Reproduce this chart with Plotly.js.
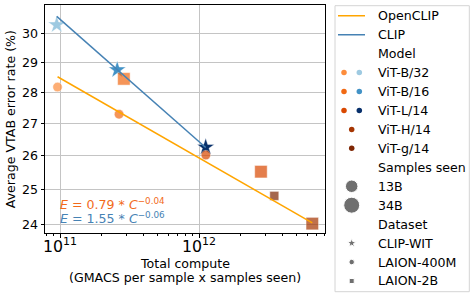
<!DOCTYPE html>
<html><head><meta charset="utf-8">
<script src="https://cdn.plot.ly/plotly-3.0.1.min.js"></script>
<style>body{margin:0;background:#fff;} #c{width:476px;height:298px;}</style>
</head><body><div id="c"></div>
<script>
// ---- data ----
const clipModels = ['ViT-B/32','ViT-B/16','ViT-L/14'];
const clipX = [9.47e10, 2.58e11, 1.117e12];
const clipY = [30.29, 28.74, 26.26];
const clipColors = ['#9ecae1','#4292c6','#08306b'];

const openModels = ['ViT-B/32','ViT-B/16','ViT-B/16','ViT-L/14','ViT-L/14','ViT-g/14','ViT-H/14'];
const openSamples = ['13B','13B','34B','13B','34B','13B','34B'];
const openData = ['LAION-400M','LAION-400M','LAION-2B','LAION-400M','LAION-2B','LAION-2B','LAION-2B'];
const openX = [9.6e10, 2.66e11, 2.88e11, 1.12e12, 2.79e12, 3.48e12, 6.53e12];
const openY = [28.17, 27.29, 28.44, 26.02, 25.52, 24.81, 24.02];

const openFitX = [9.6e10, 6.53e12];
const openFitY = [28.51, 24.04];
const clipFitX = [9.47e10, 1.117e12];
const clipFitY = [30.59, 26.25];

const yTicks = [24, 25, 26, 27, 28, 29, 30];
const xTitleLines = ['Total compute', '(GMACS per sample x samples seen)'];

const legendRows = ['OpenCLIP','CLIP','Model','ViT-B/32','ViT-B/16','ViT-L/14','ViT-H/14','ViT-g/14',
                    'Samples seen','13B','34B','Dataset','CLIP-WIT','LAION-400M','LAION-2B'];
// ---- styles ----
const openColorMap = {'ViT-B/32':'#fd8d3c','ViT-B/16':'#f16913','ViT-L/14':'#d94801','ViT-H/14':'#a63603','ViT-g/14':'#7f2704'};
const sizeMap = {'13B':9.5,'34B':13};
const symbolMap = {'CLIP-WIT':'star','LAION-400M':'circle','LAION-2B':'square'};
const FONT = 'DejaVu Sans';
const FS = 12.6;

const traces = [];
// CLIP points
traces.push({x: clipX, y: clipY, type:'scatter', mode:'markers', xaxis:'x', yaxis:'y',
  marker:{symbol:'star', size:13, color:clipColors, line:{width:0.6,color:'rgba(255,255,255,0.7)'}}, hoverinfo:'skip'});
// OpenCLIP points
traces.push({x: openX, y: openY, type:'scatter', mode:'markers', xaxis:'x', yaxis:'y',
  marker:{symbol: openData.map(d=>symbolMap[d]), size: openSamples.map((s,i)=>symbolMap[openData[i]]==='square'? (s==='34B'?12.5:9):sizeMap[s]),
          color: openModels.map(m=>openColorMap[m]), line:{width:0.8,color:'rgba(255,255,255,0.6)'}}, hoverinfo:'skip'});
// fits
traces.push({x: openFitX, y: openFitY, type:'scatter', mode:'lines', xaxis:'x', yaxis:'y', line:{color:'#ffa500', width:1.5}, hoverinfo:'skip'});
traces.push({x: clipFitX, y: clipFitY, type:'scatter', mode:'lines', xaxis:'x', yaxis:'y', line:{color:'#4682b4', width:1.5}, hoverinfo:'skip'});

// legend drawn on its own axes (x2/y2): x in px from legend left, y in rows
const lineX = [3, 30];
traces.push({x: lineX, y:[0,0], xaxis:'x2', yaxis:'y2', mode:'lines', line:{color:'#ffa500', width:1.5}, hoverinfo:'skip'});
traces.push({x: lineX, y:[1,1], xaxis:'x2', yaxis:'y2', mode:'lines', line:{color:'#4682b4', width:1.5}, hoverinfo:'skip'});
const legDotX = [], legDotY = [], legDotC = [];
const pairs = [['ViT-B/32',clipColors[0]],['ViT-B/16',clipColors[1]],['ViT-L/14',clipColors[2]]];
pairs.forEach(([m,bc])=>{
  const r = legendRows.indexOf(m);
  legDotX.push(9, 24.3); legDotY.push(r, r); legDotC.push(openColorMap[m], bc);
});
['ViT-H/14','ViT-g/14'].forEach(m=>{ const r=legendRows.indexOf(m); legDotX.push(16.7); legDotY.push(r); legDotC.push(openColorMap[m]); });
traces.push({x: legDotX, y: legDotY, xaxis:'x2', yaxis:'y2', mode:'markers', marker:{size:5.5, color:legDotC}, hoverinfo:'skip'});
traces.push({x:[16.7,16.7], y:[legendRows.indexOf('13B'), legendRows.indexOf('34B')], xaxis:'x2', yaxis:'y2', mode:'markers',
  marker:{size:[12.5,16], color:'#333333'}, hoverinfo:'skip'});
traces.push({x:[16.7,16.7,16.7], y:['CLIP-WIT','LAION-400M','LAION-2B'].map(d=>legendRows.indexOf(d)), xaxis:'x2', yaxis:'y2', mode:'markers',
  marker:{size:[7,5.5,5], symbol:['star','circle','square'], color:'#333333'}, hoverinfo:'skip'});

const annotations = legendRows.map((t,i)=>({x:40.7, y:i, xref:'x2', yref:'y2', text:t, showarrow:false, xanchor:'left', yanchor:'middle',
  font:{family:FONT, size:FS, color:'#000'}}));
annotations.push({xref:'x domain', yref:'y domain', x:0.046, y:0.13, xanchor:'left', yanchor:'middle', showarrow:false,
  text:'<i>E</i> = 0.79 * <i>C</i><sup>−0.04</sup>', font:{family:FONT, size:FS, color:'#f26a1b'}});
annotations.push({xref:'x domain', yref:'y domain', x:0.046, y:0.068, xanchor:'left', yanchor:'middle', showarrow:false,
  text:'<i>E</i> = 1.55 * <i>C</i><sup>−0.06</sup>', font:{family:FONT, size:FS, color:'#4682b4'}});
// x-axis title (two lines, matplotlib-like tight spacing)
annotations.push({xref:'x domain', yref:'paper', x:0.5, y:1-263.2/298, xanchor:'center', yanchor:'middle', showarrow:false,
  text:xTitleLines[0], font:{family:FONT, size:FS, color:'#000'}});
annotations.push({xref:'x domain', yref:'paper', x:0.5, y:1-277.3/298, xanchor:'center', yanchor:'middle', showarrow:false,
  text:xTitleLines[1], font:{family:FONT, size:FS, color:'#000'}});

const layout = {
  width:476, height:298, margin:{l:0,r:0,t:0,b:0}, showlegend:false,
  paper_bgcolor:'#fff', plot_bgcolor:'#fff',
  font:{family:FONT, size:FS, color:'#000'},
  xaxis:{type:'log', domain:[45/476, 325/476], range:[Math.log10(7.8e10), Math.log10(8.06e12)],
    dtick:1, exponentformat:'power', showexponent:'all',
    showline:true, mirror:true, linecolor:'#000', linewidth:1,
    ticks:'outside', ticklen:3.5, tickcolor:'#000', showgrid:true, gridcolor:'#c4c4c4', gridwidth:1, zeroline:false,
    minor:{ticks:'outside', ticklen:2, tickcolor:'#000', showgrid:false},
    ticklabelstandoff:-4,
    tickfont:{family:FONT, size:FS}},
  yaxis:{type:'log', domain:[1-233.3/298, 1-5/298], range:[Math.log10(23.75), Math.log10(31.0)],
    tickvals:yTicks, ticktext:yTicks.map(String),
    showline:true, mirror:true, linecolor:'#000', linewidth:1,
    ticks:'outside', ticklen:3.5, tickcolor:'#000', showgrid:true, gridcolor:'#c4c4c4', gridwidth:1, zeroline:false,
    tickfont:{family:FONT, size:FS},
    title:{text:'Average VTAB error rate (%)', font:{family:FONT, size:FS}, standoff:3}},
  xaxis2:{domain:[335/476, 469.3/476], range:[0,134.3], visible:false, anchor:'y2'},
  yaxis2:{domain:[1-291.7/298, 1-5.7/298], range:[14.565,-0.528], visible:false, anchor:'x2'},
  shapes:[{type:'rect', xref:'paper', yref:'paper', x0:335/476, x1:469.3/476, y0:1-291.7/298, y1:1-5.7/298,
    line:{color:'#d4d4d4', width:1}, fillcolor:'rgba(255,255,255,0.8)', layer:'below'}],
  annotations: annotations
};
Plotly.newPlot('c', traces, layout, {staticPlot:true});
</script></body></html>
